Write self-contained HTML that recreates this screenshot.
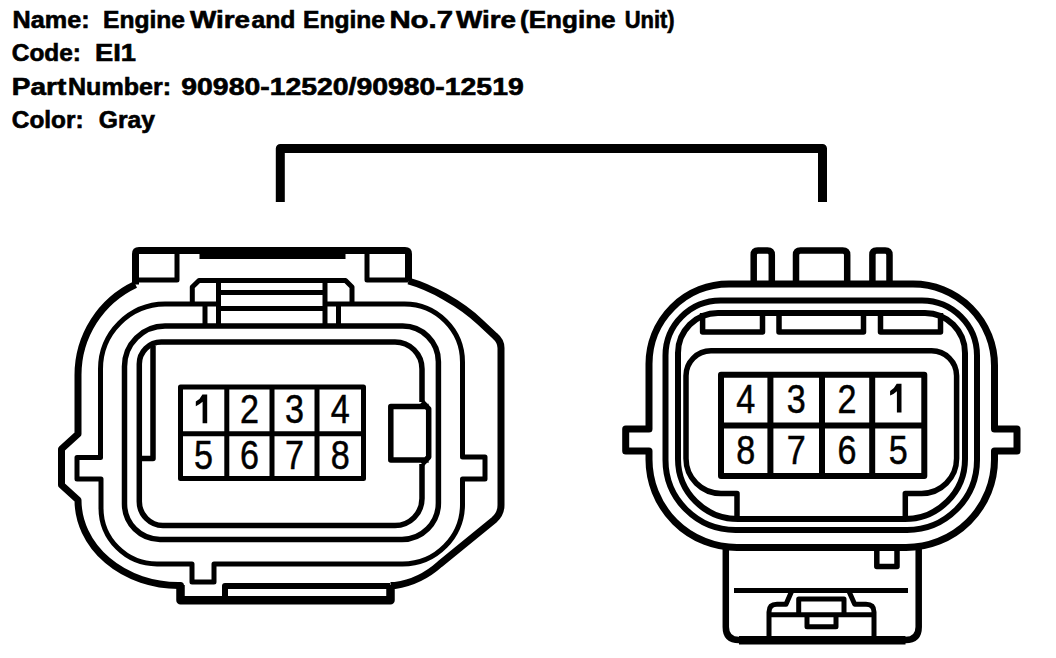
<!DOCTYPE html>
<html><head><meta charset="utf-8"><style>
html,body{margin:0;padding:0;background:#fff;width:1056px;height:658px;overflow:hidden}
svg{display:block}
</style></head><body>
<svg width="1056" height="658" viewBox="0 0 1056 658">
<g font-family="Liberation Sans, sans-serif" font-weight="bold" font-size="23" fill="#000" stroke="#000" stroke-width="0.6">
<text x="12.6" y="27.7" textLength="77.0" lengthAdjust="spacingAndGlyphs">Name:</text>
<text x="103" y="27.7" textLength="82" lengthAdjust="spacingAndGlyphs">Engine</text>
<text x="190" y="27.7" textLength="60" lengthAdjust="spacingAndGlyphs">Wire</text>
<text x="251.5" y="27.7" textLength="43.89999999999998" lengthAdjust="spacingAndGlyphs">and</text>
<text x="303" y="27.7" textLength="82" lengthAdjust="spacingAndGlyphs">Engine</text>
<text x="389.4" y="27.7" textLength="63.60000000000002" lengthAdjust="spacingAndGlyphs">No.7</text>
<text x="456" y="27.7" textLength="60" lengthAdjust="spacingAndGlyphs">Wire</text>
<text x="520" y="27.7" textLength="95.60000000000002" lengthAdjust="spacingAndGlyphs">(Engine</text>
<text x="624.7" y="27.7" textLength="50.0" lengthAdjust="spacingAndGlyphs">Unit)</text>
<text x="11.8" y="60.7" textLength="69.2" lengthAdjust="spacingAndGlyphs">Code:</text>
<text x="95" y="60.7" textLength="41" lengthAdjust="spacingAndGlyphs">EI1</text>
<text x="11.8" y="95" textLength="54.5" lengthAdjust="spacingAndGlyphs">Part</text>
<text x="68" y="95" textLength="103" lengthAdjust="spacingAndGlyphs">Number:</text>
<text x="181.3" y="95" textLength="342.40000000000003" lengthAdjust="spacingAndGlyphs">90980-12520/90980-12519</text>
<text x="11.8" y="127.7" textLength="71.7" lengthAdjust="spacingAndGlyphs">Color:</text>
<text x="98.8" y="127.7" textLength="56.2" lengthAdjust="spacingAndGlyphs">Gray</text>
</g>
<!-- bracket -->
<path d="M280.3 202 V148.5 H822.5 V202" fill="none" stroke="#000" stroke-width="9" stroke-linejoin="round"/>

<!-- LEFT CONNECTOR -->
<g fill="none" stroke="#000" stroke-linejoin="round">
 <!-- outer -->
 <path stroke-width="7" d="M135.5 284.5 V254 Q135.5 250.5 139 250.5 H405 Q408.5 250.5 408.5 254 V281"/>
 <path stroke-width="5" d="M135.5 280 H177 V254 M408.5 280 H367 V254"/>
 <path stroke-width="7" d="M135.5 284.5 A100 100 0 0 0 78 375 V434 L61.5 449 V485 L78 500 A100.5 85.5 0 0 0 178.5 585.5 H180.5 V600"/>
 <path stroke-width="7" d="M408.5 281 C430 287 460 303 480 322 L495 336 Q501 341 501 348 V505 Q501 514 494 520 L440 564 Q420 582 395 585.5 H390.5"/>
 <path stroke-width="8.5" d="M180.5 585 V600.25 H390.5 V585"/>
 <path stroke-width="6" d="M225 596 V586 H390"/>
 <!-- contour 2 -->
 <path stroke-width="5" d="M218.5 304 H165 A65 65 0 0 0 100.5 369 V457.5 H77 V479 H101 V508 A56 56 0 0 0 157 564 H192 V582 H214 V564 H402.5 A60 60 0 0 0 462.5 503 V479 H485 V457 H462.5 V362 A58 58 0 0 0 404.5 304 H325"/>
 <!-- contour 3 -->
 <path stroke-width="5.5" d="M124.5 366.5 A40.5 40.5 0 0 1 165 326 H402.7 A35.7 35.7 0 0 1 438.4 361.7 V503 A36.4 36.4 0 0 1 402 539.4 H160 A35.5 35.5 0 0 1 124.5 504 Z"/>
 <!-- contour 4 -->
 <path stroke-width="5.5" d="M139.3 364 A22 22 0 0 1 161.3 342 H395 A27 27 0 0 1 422 369 V402 M422 464 V498.5 A27 27 0 0 1 395 525.5 H163 A24 24 0 0 1 139.3 501.5 V364"/>
 <!-- left small rect -->
 <path stroke-width="5.5" d="M153 346 V458.5 H139"/>
 <!-- key rect -->
 <path stroke-width="5.5" d="M422 402 L428.7 409 V457 L422 464 M428.7 406.6 H390.8 V459.9 H428.7"/>
 <!-- lock -->
 <path stroke-width="5" d="M192.3 302 V287 L199 280.5 H345.5 L352 287 V302"/>
 <path stroke-width="5" d="M218.5 283 V324 M325 283 V324 M205 306 V324 M338.5 306 V324 M218.5 292.5 H325 M218.5 308.5 H325"/>
 <!-- grid -->
 <path stroke-width="5" d="M180.5 387 H363.5 V478.6 H180.5 Z M226.8 387 V478.6 M272 387 V478.6 M317 387 V478.6 M180.5 433.8 H363.5"/>
</g>
<rect x="199.5" y="247" width="146" height="12" fill="#000"/>
<g font-family="Liberation Sans, sans-serif" font-size="40" fill="#000" stroke="#000" stroke-width="0.5" text-anchor="middle">
<text x="249.4" y="423" textLength="19" lengthAdjust="spacingAndGlyphs">2</text><text x="294.5" y="423" textLength="19" lengthAdjust="spacingAndGlyphs">3</text><text x="340.3" y="423" textLength="19" lengthAdjust="spacingAndGlyphs">4</text>
<text x="203.6" y="468.7" textLength="19" lengthAdjust="spacingAndGlyphs">5</text><text x="249.4" y="468.7" textLength="19" lengthAdjust="spacingAndGlyphs">6</text><text x="294.5" y="468.7" textLength="19" lengthAdjust="spacingAndGlyphs">7</text><text x="340.3" y="468.7" textLength="19" lengthAdjust="spacingAndGlyphs">8</text>
</g>

<path d="M202.4 394.4 H207.2 V423.2 H202.6 V401.8 Q199.6 404.6 195.8 406.2 V401.6 Q200.2 399.2 202.4 394.4 Z" fill="#000"/>
<path transform="translate(694.3 -10.6)" d="M202.4 394.4 H207.2 V423.2 H202.6 V401.8 Q199.6 404.6 195.8 406.2 V401.6 Q200.2 399.2 202.4 394.4 Z" fill="#000"/>
<!-- RIGHT CONNECTOR -->
<g fill="none" stroke="#000" stroke-linejoin="round">
 <!-- outer -->
 <path stroke-width="7" d="M729 284 H913 A81.5 81.5 0 0 1 994.5 365.5 V429 H1017 V451 H994.5 V459.5 A88.5 88 0 0 1 906 547.5 H737 A88 88 0 0 1 649 459.5 V451 H625.7 V429 H649 V364 A80 80 0 0 1 729 284 Z"/>
 <!-- tabs -->
 <path stroke-width="6.5" d="M753.7 284 V255 Q753.7 250.6 758 250.6 H767.5 Q771.8 250.6 771.8 255 V284 M796 284 V255 Q796 250.6 800.5 250.6 H842.7 Q847.2 250.6 847.2 255 V284 M872.4 284 V255 Q872.4 250.6 876.7 250.6 H885.2 Q889.5 250.6 889.5 255 V284"/>
 <!-- contour 2 -->
 <path stroke-width="6" d="M720.5 300.5 H922 A55 55 0 0 1 977 355.5 V460 A70 70 0 0 1 907 530 H735.5 A70 70 0 0 1 665.5 460 V355.5 A55 55 0 0 1 720.5 300.5 Z"/>
 <!-- contour 3 -->
 <path stroke-width="6" d="M718 313 H925 A40 40 0 0 1 965 353 V459 A60 60 0 0 1 905 519 H738 A60 60 0 0 1 678 459 V353 A40 40 0 0 1 718 313 Z"/>
 <!-- contour 4 -->
 <path stroke-width="5.5" d="M711 350.8 H931.6 A25 25 0 0 1 956.6 375.8 V458.5 A35 35 0 0 1 921.6 493.5 H905.3 V519 M737 519 V493.5 H721 A35 35 0 0 1 686 458.5 V375.8 A25 25 0 0 1 711 350.8"/>
 <!-- slots -->
 <path stroke-width="5.5" d="M702.6 313 V332 H762.5 V313 M779 313 V332 H863.5 V313 M880.5 313 V332 H940.5 V313"/>
 <!-- lower body -->
 <path stroke-width="6.5" d="M725.8 547.5 V627 Q725.8 640 739 640 H905.5 Q918.7 640 918.7 627 V547.5"/>
 <path stroke-width="8.5" d="M739 640.3 H905.5"/>
 <path stroke-width="5.5" d="M876.8 547.5 V566.5 H897 V547.5"/>
 <path stroke-width="5" d="M734 590.5 H908"/>
 <!-- latch -->
 <path stroke-width="5" d="M792 590.5 L786 604.3 H777 Q769 604.3 769 612 V640 M848.6 590.5 L854.7 604.3 H866 Q874 604.3 874 612 V640"/>
 <path stroke-width="5" d="M771 614.8 H872 M798.7 614.8 V599 H844 V614.8 M807 614.8 V626.8 H836 V614.8"/>
 <!-- grid -->
 <path stroke-width="6" d="M721 374.7 H924.3 V475.9 H721 Z M770.4 374.7 V475.9 M822 374.7 V475.9 M872.2 374.7 V475.9 M721 425.5 H924.3"/>
</g>
<g font-family="Liberation Sans, sans-serif" font-size="40" fill="#000" stroke="#000" stroke-width="0.5" text-anchor="middle">
<text x="745.7" y="413" textLength="19" lengthAdjust="spacingAndGlyphs">4</text><text x="796.2" y="413" textLength="19" lengthAdjust="spacingAndGlyphs">3</text><text x="847.1" y="413" textLength="19" lengthAdjust="spacingAndGlyphs">2</text>
<text x="745.7" y="463.5" textLength="19" lengthAdjust="spacingAndGlyphs">8</text><text x="796.2" y="463.5" textLength="19" lengthAdjust="spacingAndGlyphs">7</text><text x="847.1" y="463.5" textLength="19" lengthAdjust="spacingAndGlyphs">6</text><text x="898.2" y="463.5" textLength="19" lengthAdjust="spacingAndGlyphs">5</text>
</g>
</svg>
</body></html>
